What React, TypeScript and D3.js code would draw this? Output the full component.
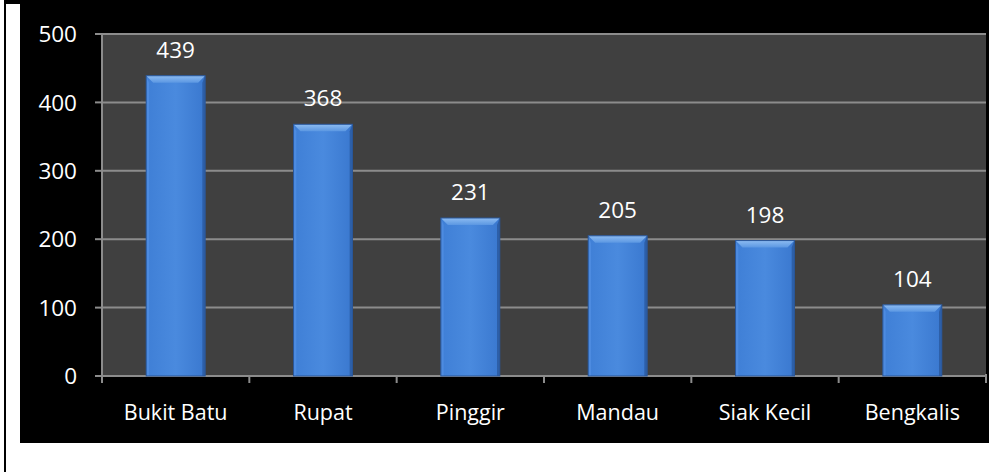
import React from "react";
import * as d3 from "d3";

const categories = ["Bukit Batu", "Rupat", "Pinggir", "Mandau", "Siak Kecil", "Bengkalis"];
const values = [439, 368, 231, 205, 198, 104];
const yTicks = [0, 100, 200, 300, 400, 500];

const W = 989;
const H = 472;
const plot = { left: 102, right: 986, top: 34, bottom: 376 };
const FONT = "'Open Sans', 'Noto Sans', sans-serif";
const FS_NUM = 22.5;
const FS_CAT = 21.5;

export default function App() {
  const x = d3
    .scaleBand<string>()
    .domain(categories)
    .range([plot.left, plot.right])
    .paddingInner(0.6)
    .paddingOuter(0.3);
  const xb = d3.scaleBand<string>().domain(categories).range([plot.left, plot.right]);
  const y = d3.scaleLinear().domain([0, 500]).range([plot.bottom, plot.top]);
  const bev = 7;

  return (
    <div style={{ position: "absolute", left: 0, top: 0 }}>
      <svg width={W} height={H} style={{ display: "block" }}>
        <defs>
          <linearGradient id="face" x1="0" x2="1" y1="0" y2="0">
            <stop offset="0" stopColor="#3f7fd6" />
            <stop offset="0.5" stopColor="#4a8ade" />
            <stop offset="1" stopColor="#3a78cf" />
          </linearGradient>
          <linearGradient id="topb" x1="0" x2="0" y1="0" y2="1">
            <stop offset="0" stopColor="#8dbcf2" />
            <stop offset="1" stopColor="#5b97e2" />
          </linearGradient>
        </defs>
        <rect x={0} y={0} width={W} height={H} fill="#ffffff" />
        <rect x={4} y={0} width={2} height={H} fill="#000" />
        <rect x={4} y={0} width={W} height={4} fill="#000" />
        <rect x={20} y={0} width={W - 20} height={443} fill="#000" />
        <rect
          x={plot.left}
          y={plot.top}
          width={plot.right - plot.left}
          height={plot.bottom - plot.top}
          fill="#404040"
        />
        {yTicks.map((t) => (
          <g key={t}>
            {t > 0 && (
              <line x1={plot.left} x2={plot.right} y1={y(t)} y2={y(t)} stroke="#8c8c8c" strokeWidth={2} />
            )}
            <line x1={plot.left - 7} x2={plot.left} y1={y(t)} y2={y(t)} stroke="#8c8c8c" strokeWidth={2} />
            <text
              x={77}
              y={y(t)}
              dy="0.36em"
              textAnchor="end"
              fill="#fff"
              fontSize={FS_NUM}
              fontFamily={FONT}
            >
              {t}
            </text>
          </g>
        ))}
        <line x1={plot.left} x2={plot.left} y1={plot.top} y2={plot.bottom} stroke="#8c8c8c" strokeWidth={2} />
        <line x1={plot.left - 7} x2={plot.right} y1={plot.bottom} y2={plot.bottom} stroke="#8c8c8c" strokeWidth={2} />
        {categories.map((c) => (
          <line
            key={"t" + c}
            x1={xb(c)!}
            x2={xb(c)!}
            y1={plot.bottom}
            y2={plot.bottom + 7}
            stroke="#8c8c8c"
            strokeWidth={2}
          />
        ))}
        <line x1={plot.right} x2={plot.right} y1={plot.bottom - 2} y2={plot.bottom + 7} stroke="#8c8c8c" strokeWidth={2} />
        {categories.map((c, i) => {
          const x0 = x(c)!;
          const w = x.bandwidth();
          const y0 = y(values[i]);
          const y1 = y(0);
          return (
            <g key={c}>
              <rect x={x0} y={y0} width={w} height={y1 - y0} fill="url(#face)" />
              <polygon
                points={`${x0},${y0} ${x0 + w},${y0} ${x0 + w - bev},${y0 + bev} ${x0 + bev},${y0 + bev}`}
                fill="url(#topb)"
              />
              <polygon
                points={`${x0},${y0} ${x0 + bev * 0.4},${y0 + bev} ${x0 + bev * 0.4},${y1} ${x0},${y1}`}
                fill="#4d8be0"
              />
              <polygon
                points={`${x0 + w},${y0} ${x0 + w - bev * 0.4},${y0 + bev} ${x0 + w - bev * 0.4},${y1} ${x0 + w},${y1}`}
                fill="#2d5fa8"
              />
              <rect x={x0} y={y0} width={w} height={y1 - y0} fill="none" stroke="#2a5698" strokeWidth={1} />
              <text
                x={x0 + w / 2}
                y={y0 - 18}
                textAnchor="middle"
                fill="#fff"
                fontSize={FS_NUM}
                fontFamily={FONT}
              >
                {values[i]}
              </text>
              <text
                x={xb(c)! + xb.bandwidth() / 2}
                y={420}
                textAnchor="middle"
                fill="#fff"
                fontSize={FS_CAT}
                fontFamily={FONT}
              >
                {c}
              </text>
            </g>
          );
        })}
      </svg>
    </div>
  );
}
